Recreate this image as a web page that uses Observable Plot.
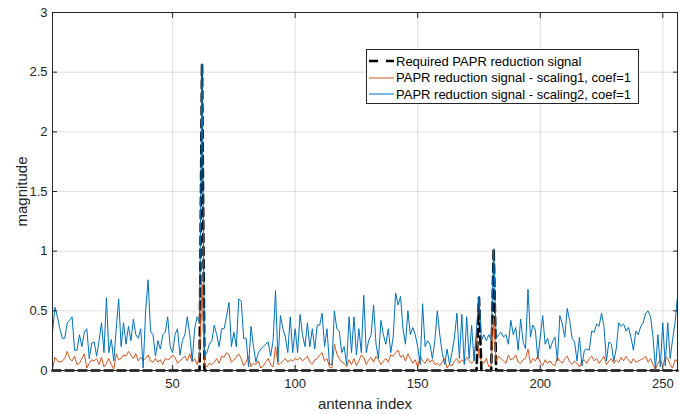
<!DOCTYPE html>
<html><head><meta charset="utf-8">
<script src="https://cdn.jsdelivr.net/npm/d3@7"></script>
<script src="https://cdn.jsdelivr.net/npm/@observablehq/plot@0.6"></script>
<style>
body{margin:0;background:#fff;}
#wrap{position:relative;width:680px;height:414px;font-family:"Liberation Sans",Arial,sans-serif;}
#legend{position:absolute;left:366px;top:49px;width:271px;height:53px;border:1px solid #262626;background:#fff;font-size:13px;color:#000;}
#legend .row{position:absolute;left:2px;height:16px;display:flex;align-items:center;white-space:nowrap;}
#legend svg{margin-right:2px;}
</style></head><body><div id="wrap"></div>
<script>
const xTicks = [50, 100, 150, 200, 250];
const yTicks = [0, 0.5, 1, 1.5, 2, 2.5, 3];
const seriesNames = ["Required PAPR reduction signal", "PAPR reduction signal - scaling1, coef=1", "PAPR reduction signal - scaling2, coef=1"];
const seriesColors = ["#000000", "#D95319", "#0072BD"];

// required signal: zero except these antennas
const requiredIdx = [62, 175, 181];
const requiredVal = [2.57, 0.61, 1.02];

const scaling1 = [
0.01,0.11,0.08,0.07,0.08,0.10,0.16,0.10,0.08,0.12,
0.05,0.06,0.10,0.14,0.02,0.06,0.09,0.08,0.10,0.05,
0.11,0.03,0.06,0.10,0.05,0.01,0.14,0.09,0.10,0.13,
0.12,0.16,0.13,0.10,0.14,0.08,0.11,0.09,0.10,0.13,
0.08,0.07,0.10,0.07,0.09,0.05,0.10,0.09,0.10,0.13,
0.11,0.06,0.08,0.10,0.12,0.08,0.14,0.07,0.10,0.05,
0.12,0.73,
0.05,0.03,0.06,0.05,0.07,0.10,0.06,0.12,0.11,0.15,
0.13,0.07,0.09,0.11,0.14,0.10,0.04,0.07,0.12,0.03,
0.06,0.05,0.08,0.02,0.04,0.07,0.10,0.05,0.03,0.20,
0.05,0.06,0.08,0.10,0.07,0.09,0.08,0.10,0.09,0.11,
0.08,0.10,0.12,0.07,0.05,0.09,0.10,0.13,0.15,0.08,
0.10,0.03,0.02,0.22,0.14,0.10,0.07,0.06,0.03,0.09,
0.05,0.10,0.04,0.08,0.13,0.11,0.05,0.09,0.11,0.07,
0.12,0.09,0.05,0.08,0.10,0.07,0.13,0.12,0.15,0.17,
0.11,0.13,0.08,0.14,0.10,0.06,0.09,0.03,0.12,0.08,
0.06,0.10,0.07,0.09,0.05,0.06,0.04,0.07,0.10,0.02,
0.05,0.04,0.08,0.10,0.06,0.09,0.07,0.11,0.08,0.06,
0.09,0.30,0.12,0.08,0.06,0.10,0.03,0.05,0.44,0.08,
0.12,0.10,0.08,0.06,0.13,0.09,0.10,0.13,0.07,0.06,
0.09,0.10,0.18,0.06,0.10,0.08,0.12,0.07,0.04,0.09,
0.06,0.08,0.05,0.04,0.11,0.08,0.06,0.10,0.12,0.07,
0.05,0.08,0.06,0.03,0.07,0.09,0.06,0.10,0.12,0.08,
0.10,0.06,0.09,0.12,0.05,0.08,0.10,0.06,0.09,0.07,
0.11,0.08,0.12,0.09,0.06,0.10,0.07,0.08,0.09,0.10,
0.12,0.07,0.10,0.05,0.01,0.06,0.09,0.04,0.11,0.10,
0.05,0.02,0.09,0.08
];

const scaling2 = [
0.32,0.53,0.45,0.35,0.27,0.27,0.40,0.42,0.45,0.17,
0.17,0.30,0.20,0.32,0.35,0.10,0.23,0.24,0.12,0.25,
0.40,0.15,0.61,0.15,0.26,0.08,0.35,0.60,0.20,0.40,
0.22,0.37,0.25,0.43,0.30,0.27,0.35,0.02,0.50,0.76,
0.33,0.30,0.12,0.25,0.18,0.30,0.32,0.45,0.20,0.15,
0.30,0.35,0.13,0.25,0.30,0.45,0.30,0.08,0.35,0.45,
0.40,2.57,
0.12,0.15,0.22,0.25,0.38,0.30,0.20,0.35,0.35,0.45,
0.57,0.20,0.32,0.20,0.60,0.58,0.27,0.27,0.03,0.37,
0.20,0.07,0.15,0.18,0.20,0.22,0.24,0.12,0.25,0.67,
0.07,0.46,0.35,0.28,0.15,0.45,0.15,0.35,0.15,0.47,
0.30,0.20,0.40,0.20,0.35,0.18,0.38,0.38,0.48,0.20,
0.35,0.05,0.05,0.50,0.35,0.33,0.15,0.20,0.05,0.45,
0.15,0.45,0.13,0.35,0.15,0.63,
0.15,0.25,0.30,0.55,0.22,0.10,0.42,0.30,0.22,0.35,
0.15,0.28,0.65,0.55,0.62,0.35,0.22,0.50,0.30,0.36,
0.30,0.20,0.05,0.56,0.20,0.25,0.22,0.10,0.25,0.50,
0.30,0.15,0.05,0.18,0.05,0.15,0.28,0.48,0.10,0.47,
0.05,0.45,0.10,0.38,0.08,0.35,0.62,0.25,0.30,0.25,
0.30,0.25,1.02,
0.27,0.30,0.32,0.28,0.30,0.22,0.42,0.30,0.36,0.17,
0.43,0.24,0.18,0.68,
0.28,0.38,0.34,0.10,0.28,0.46,0.22,0.27,0.18,0.24,
0.28,0.08,0.46,0.39,0.28,0.52,0.42,0.27,0.24,0.08,
0.28,0.04,0.17,0.18,0.17,0.33,0.32,0.39,0.37,0.48,
0.37,0.08,0.24,0.22,0.08,0.18,0.40,0.37,0.39,0.33,
0.36,0.28,0.17,0.33,0.30,0.37,0.40,0.48,0.50,0.45,
0.28,0.01,0.30,0.03,0.40,0.04,0.40,0.10,0.26,0.40,
0.62
];

const N = 256;
const antenna = d3.range(1, N + 1);
const required = antenna.map(i => { const k = requiredIdx.indexOf(i); return k >= 0 ? requiredVal[k] : 0; });
const s1 = antenna.map((i, k) => ({i, v: scaling1[k]})).filter(d => d.v !== undefined);
const s2 = antenna.map((i, k) => ({i, v: scaling2[k]})).filter(d => d.v !== undefined);
const rq = antenna.map((i, k) => ({i, v: required[k]}));

const chart = Plot.plot({
  width: 680, height: 414,
  marginLeft: 52, marginRight: 3, marginTop: 12, marginBottom: 44,
  x: {domain: [1, 256]},
  y: {domain: [0, 3]},
  style: {fontFamily: '"Liberation Sans", Arial, sans-serif', fontSize: "13px", color: "#262626", background: "#fff"},
  marks: [
    Plot.gridX(xTicks, {stroke: "#262626", strokeOpacity: 0.15}),
    Plot.gridY(yTicks, {stroke: "#262626", strokeOpacity: 0.15}),
    Plot.lineY(rq, {x: "i", y: "v", stroke: seriesColors[0], strokeWidth: 2.6, strokeDasharray: "8,5"}),
    Plot.lineY(s1, {x: "i", y: "v", stroke: seriesColors[1], strokeWidth: 1}),
    Plot.lineY(s2, {x: "i", y: "v", stroke: seriesColors[2], strokeWidth: 1}),
    Plot.frame({stroke: "#262626", strokeWidth: 1}),
    Plot.axisX(xTicks, {anchor: "bottom", tickSize: -5, tickPadding: 13, label: "antenna index", labelAnchor: "center", labelArrow: "none", labelOffset: 38, fontSize: 13}),
    Plot.axisX(xTicks, {anchor: "top", tickSize: -5, tickFormat: () => "", label: null}),
    Plot.axisY(yTicks, {anchor: "left", tickSize: -5, tickPadding: 10, tickFormat: d => String(d), label: "magnitude", labelAnchor: "center", labelArrow: "none", labelOffset: 36, fontSize: 13}),
    Plot.axisY(yTicks, {anchor: "right", tickSize: -5, tickFormat: () => "", label: null})
  ]
});
document.getElementById("wrap").appendChild(chart);
d3.select(chart).selectAll("[aria-label='x-axis label'] text, [aria-label='y-axis label'] text").style("font-size", "15px");

// legend
const leg = document.createElement("div");
leg.id = "legend";
seriesNames.forEach((name, k) => {
  const row = document.createElement("div");
  row.className = "row";
  row.style.top = (3 + k * 16.5) + "px";
  const dash = k === 0 ? 'stroke-dasharray="9,8" stroke-width="2.6"' : 'stroke-width="1"';
  row.innerHTML = `<svg width="25" height="10"><line x1="0" y1="5" x2="25" y2="5" stroke="${seriesColors[k]}" ${dash}/></svg><span>${name}</span>`;
  leg.appendChild(row);
});
document.getElementById("wrap").appendChild(leg);
</script></body></html>
